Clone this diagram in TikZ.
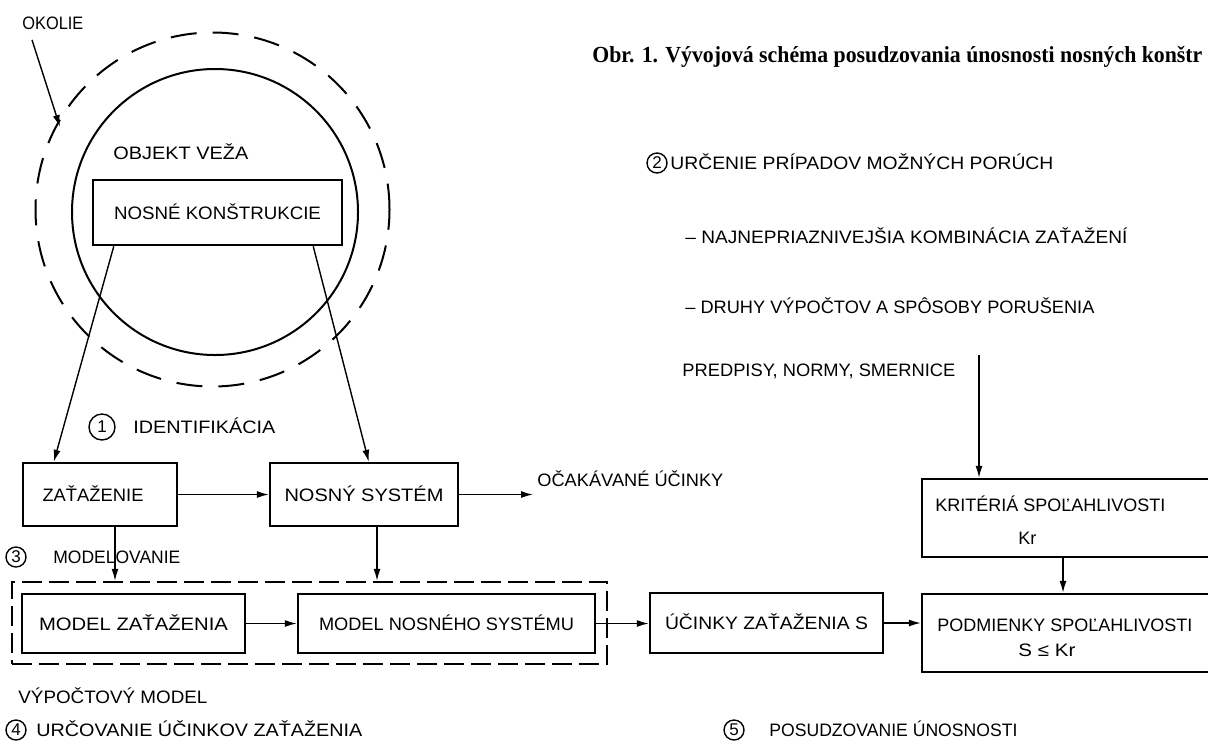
\documentclass[tikz,border=0pt]{standalone}
\usepackage{fontspec}
\setmainfont{Liberation Sans}
\newfontfamily\titlefont{Liberation Serif}
\usepackage{graphicx}
\usetikzlibrary{arrows.meta}
\newcommand\fitw[2]{\sbox0{#2}\pgfmathsetmacro\fitr{#1*0.5/(\the\wd0)}\scalebox{\fitr}[1]{\usebox0}}
\begin{document}
\begin{tikzpicture}[x=0.5pt,y=-0.5pt,
  every node/.style={font=\fontsize{9}{10}\selectfont, inner sep=0pt},
  box/.style={draw, line width=1.2pt, text height=6.5pt, text depth=0pt},
  lbl/.style={anchor=west, text height=6.5pt, text depth=0pt},
  num/.style={circle, draw, line width=0.7pt, minimum size=10pt, inner sep=0pt, font=\fontsize{8.5}{9}\selectfont},
  arr/.style={line width=0.7pt, -{Latex[length=6pt,width=3.5pt]}}]
\useasboundingbox (0,0) rectangle (1208,745);
\clip (0,0) rectangle (1208,745);
% title
\node[anchor=base west, font=\titlefont\bfseries\fontsize{11.5}{12}\selectfont] (title) at (592,62) {\fitw{610}{Obr. 1. Vývojová schéma posudzovania únosnosti nosných konštr}};
% environment and object
\node[lbl] (okolie) at (22,23) {\fitw{61}{OKOLIE}};
\coordinate (okend) at (60,127);
\node[circle, draw, line width=1pt, dash pattern=on 13pt off 8pt, minimum size=177pt] (env) at (212.5,209.5) {};
\node[circle, draw, line width=1pt, minimum size=143pt] (obj) at (215,212) {};
\node[lbl] (objekt) at (113,153) {\fitw{135}{OBJEKT VEŽA}};
\node[box, minimum width=124.5pt, minimum height=32.5pt] (nk) at (217.5,212.5) {\fitw{207}{NOSNÉ KONŠTRUKCIE}};
% identification
\node[num, minimum size=13pt] (n1) at (102,427) {1};
\node[lbl] (ident) at (133,427) {\fitw{142}{IDENTIFIKÁCIA}};
\node[box, minimum width=77pt, minimum height=31.5pt] (zat) at (100,494.5) {\hspace*{-7pt}\fitw{101}{ZAŤAŽENIE}};
\node[box, minimum width=94pt, minimum height=31.5pt] (ns) at (364,494.5) {\fitw{159}{NOSNÝ SYSTÉM}};
\node[lbl] (ocak) at (537,480) {\fitw{186}{OČAKÁVANÉ ÚČINKY}};
\coordinate (ocend) at (533,494.5);
% modelling
\node[num] (n3) at (16,557) {3};
\node[lbl] (model) at (53,557) {\fitw{127}{MODELOVANIE}};
\node[draw, dash pattern=on 10pt off 3.5pt, line width=1.2pt, minimum width=297.5pt, minimum height=41pt] (vm) at (309.5,623) {};
\node[box, minimum width=111.5pt, minimum height=29.5pt] (mz) at (133.5,623.5) {\fitw{189}{MODEL ZAŤAŽENIA}};
\node[box, minimum width=148.5pt, minimum height=29.5pt] (mns) at (446.5,623.5) {\fitw{255}{MODEL NOSNÉHO SYSTÉMU}};
\node[lbl] (vyp) at (18,697) {\fitw{189}{VÝPOČTOVÝ MODEL}};
\node[num] (n4) at (16,730) {4};
\node[lbl] (urc) at (36,730) {\fitw{326}{URČOVANIE ÚČINKOV ZAŤAŽENIA}};
% effects and assessment
\node[box, minimum width=116.5pt, minimum height=30pt] (ucz) at (766.5,623) {\fitw{203}{ÚČINKY ZAŤAŽENIA S}};
\node[box, minimum width=154pt, minimum height=39pt] (pod) at (1076,633) {};
\node[lbl] (podt) at (937,625) {\fitw{255}{PODMIENKY SPOĽAHLIVOSTI}};
\node[lbl] (podf) at (1018,650) {\fitw{57}{S ≤ Kr}};
\node[box, minimum width=154pt, minimum height=39pt] (kr) at (1076,518) {};
\node[lbl] (krt) at (935,505) {\fitw{230}{KRITÉRIÁ SPOĽAHLIVOSTI}};
\node[lbl] (krk) at (1018,538) {Kr};
\node[num] (n5) at (734,730) {5};
\node[lbl] (pos) at (769,730) {\fitw{248}{POSUDZOVANIE ÚNOSNOSTI}};
% failure cases
\node[num] (n2) at (657,163) {2};
\node[lbl] (urcp) at (670,163) {\fitw{383}{URČENIE PRÍPADOV MOŽNÝCH PORÚCH}};
\node[lbl] (naj) at (685,237) {\fitw{442}{– NAJNEPRIAZNIVEJŠIA KOMBINÁCIA ZAŤAŽENÍ}};
\node[lbl] (dru) at (685,307) {\fitw{409}{– DRUHY VÝPOČTOV A SPÔSOBY PORUŠENIA}};
\node[lbl] (pre) at (682,370) {\fitw{273}{PREDPISY, NORMY, SMERNICE}};
\coordinate (pretop) at (979,355);
% connectors
\draw[arr] ([shift={(10,10)}]okolie.south west) -- (okend);
\draw[arr] ([xshift=11pt]nk.south west) -- ([xshift=16pt]zat.north west);
\draw[arr] ([xshift=-15pt]nk.south east) -- ([xshift=50pt]ns.north west);
\draw[arr] (zat) -- (ns);
\draw[arr] (ns) -- (ocend);
\draw[arr] ([xshift=7.5pt]zat.south) -- ([xshift=7.5pt]zat.south |- vm.north);
\draw[arr] ([xshift=6.5pt]ns.south) -- ([xshift=6.5pt]ns.south |- vm.north);
\draw[arr] (mz) -- (mns);
\draw[arr] (mns.east) -- (mns.east -| ucz.west);
\draw[arr] (ucz.east) -- (ucz.east -| pod.west);
\draw[arr] ([xshift=-6.5pt]kr.south) -- ([xshift=-6.5pt]kr.south |- pod.north);
\draw[arr] (pretop) -- (pretop |- kr.north);
\end{tikzpicture}
\end{document}
